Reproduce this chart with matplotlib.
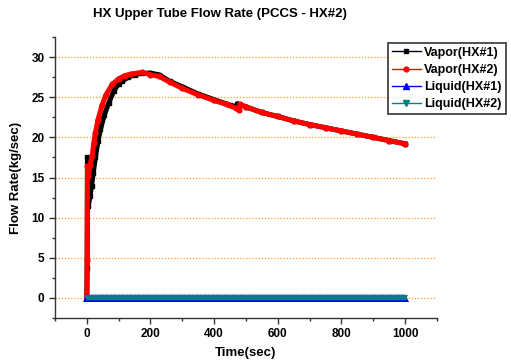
import matplotlib
matplotlib.use("Agg")
import matplotlib.pyplot as plt
from matplotlib.lines import Line2D
from matplotlib.ticker import MultipleLocator

plt.rcParams["font.family"] = ["Liberation Sans", "DejaVu Sans"]
plt.rcParams["font.weight"] = "bold"

# vapor flow rate, HX#1 (black)
vap1_time = [0, 1, 2, 5, 10, 15, 20, 27, 35, 43, 55, 69, 85, 100, 111, 130, 150,
             174, 200, 227, 260, 300, 350, 400, 450, 470, 473, 500, 550, 600,
             650, 700, 750, 800, 850, 900, 950, 1000]
vap1_flow = [0.0, 3.7, 17.5, 11.5, 12.7, 14.0, 15.5, 17.5, 19.5, 21.0, 22.8, 24.3,
             25.8, 26.7, 27.0, 27.5, 27.8, 28.0, 28.0, 27.8, 27.0, 26.3, 25.4, 24.7,
             24.0, 23.8, 24.2, 23.8, 23.1, 22.6, 22.05, 21.6, 21.2, 20.8, 20.4,
             20.0, 19.6, 19.2]

# vapor flow rate, HX#2 (red)
vap2_time = [0, 1, 2, 5, 10, 17, 22, 27, 35, 48, 60, 80, 100, 120, 140, 174, 200,
             227, 260, 300, 350, 400, 440, 470, 478, 482, 500, 550, 600, 650, 700,
             750, 800, 850, 900, 950, 1000]
vap2_flow = [0.0, 4.7, 16.4, 15.2, 16.5, 17.7, 19.3, 20.6, 22.2, 24.0, 25.3, 26.6,
             27.3, 27.7, 27.9, 28.1, 27.8, 27.6, 26.9, 26.1, 25.3, 24.6, 24.1, 23.6,
             23.4, 24.1, 23.8, 23.1, 22.6, 22.05, 21.6, 21.2, 20.8, 20.4, 20.0,
             19.6, 19.2]

# liquid flow rates stay at zero
liq_time = list(range(0, 1001, 5))
liq1_flow = [0.0] * len(liq_time)
liq2_flow = [0.0] * len(liq_time)

fig = plt.figure(figsize=(5.11, 3.63), dpi=100)
ax = fig.add_axes([0.1076, 0.124, 0.7474, 0.774])

ax.yaxis.grid(True, linestyle=(0, (1, 1.5)), color="#ff9f1a", linewidth=0.9)
ax.set_axisbelow(True)

ax.plot(vap1_time, vap1_flow, color="black", lw=3.6, marker="s", ms=3.2, zorder=3)
ax.plot(vap2_time, vap2_flow, color="red", lw=3.6, marker="o", ms=3.4, zorder=4)
ax.plot(liq_time, liq1_flow, color="blue", lw=2, marker="^", ms=6,
        markeredgewidth=0, zorder=5)
ax.plot(liq_time, liq2_flow, color="#008080", lw=2, marker="v", ms=5,
        markeredgewidth=0, zorder=6)

ax.set_xlim(-100, 1100)
ax.set_ylim(-2.5, 32.5)
ax.xaxis.set_major_locator(MultipleLocator(200))
ax.xaxis.set_minor_locator(MultipleLocator(100))
ax.yaxis.set_major_locator(MultipleLocator(5))
ax.yaxis.set_minor_locator(MultipleLocator(2.5))
ax.tick_params(which="major", direction="out", length=4, width=1, labelsize=8.5,
               colors="#333333", labelcolor="black")
ax.tick_params(which="minor", direction="out", length=2.5, width=1, colors="#333333")
for lab in ax.get_xticklabels() + ax.get_yticklabels():
    lab.set_fontweight("bold")

for side in ("top", "right"):
    ax.spines[side].set_visible(False)
for side in ("left", "bottom"):
    ax.spines[side].set_color("#333333")
    ax.spines[side].set_linewidth(1)

ax.set_xlabel("Time(sec)", fontsize=9.5, fontweight="bold", labelpad=5)
ax.set_ylabel("Flow Rate(kg/sec)", fontsize=9.5, fontweight="bold", labelpad=7)

fig.text(220 / 511, 1 - 14 / 363, "HX Upper Tube Flow Rate (PCCS - HX#2)",
         ha="center", va="center", fontsize=9.5, fontweight="bold")

handles = [
    Line2D([], [], color="black", lw=1, marker="s", ms=3),
    Line2D([], [], color="red", lw=1, marker="o", ms=3.5),
    Line2D([], [], color="blue", lw=1, marker="^", ms=4),
    Line2D([], [], color="#008080", lw=1, marker="v", ms=4),
]
labels = ["Vapor(HX#1)", "Vapor(HX#2)", "Liquid(HX#1)", "Liquid(HX#2)"]
leg = fig.legend(handles, labels, loc="upper left",
                 bbox_to_anchor=(388 / 511, 1 - 43 / 363),
                 prop={"size": 9, "weight": "bold"}, frameon=True,
                 fancybox=False, handlelength=2.3, handletextpad=0.3,
                 borderpad=0.3, labelspacing=0.42, borderaxespad=0)
leg.get_frame().set_edgecolor("black")
leg.get_frame().set_linewidth(1.2)

fig.savefig("out.png", dpi=100)
